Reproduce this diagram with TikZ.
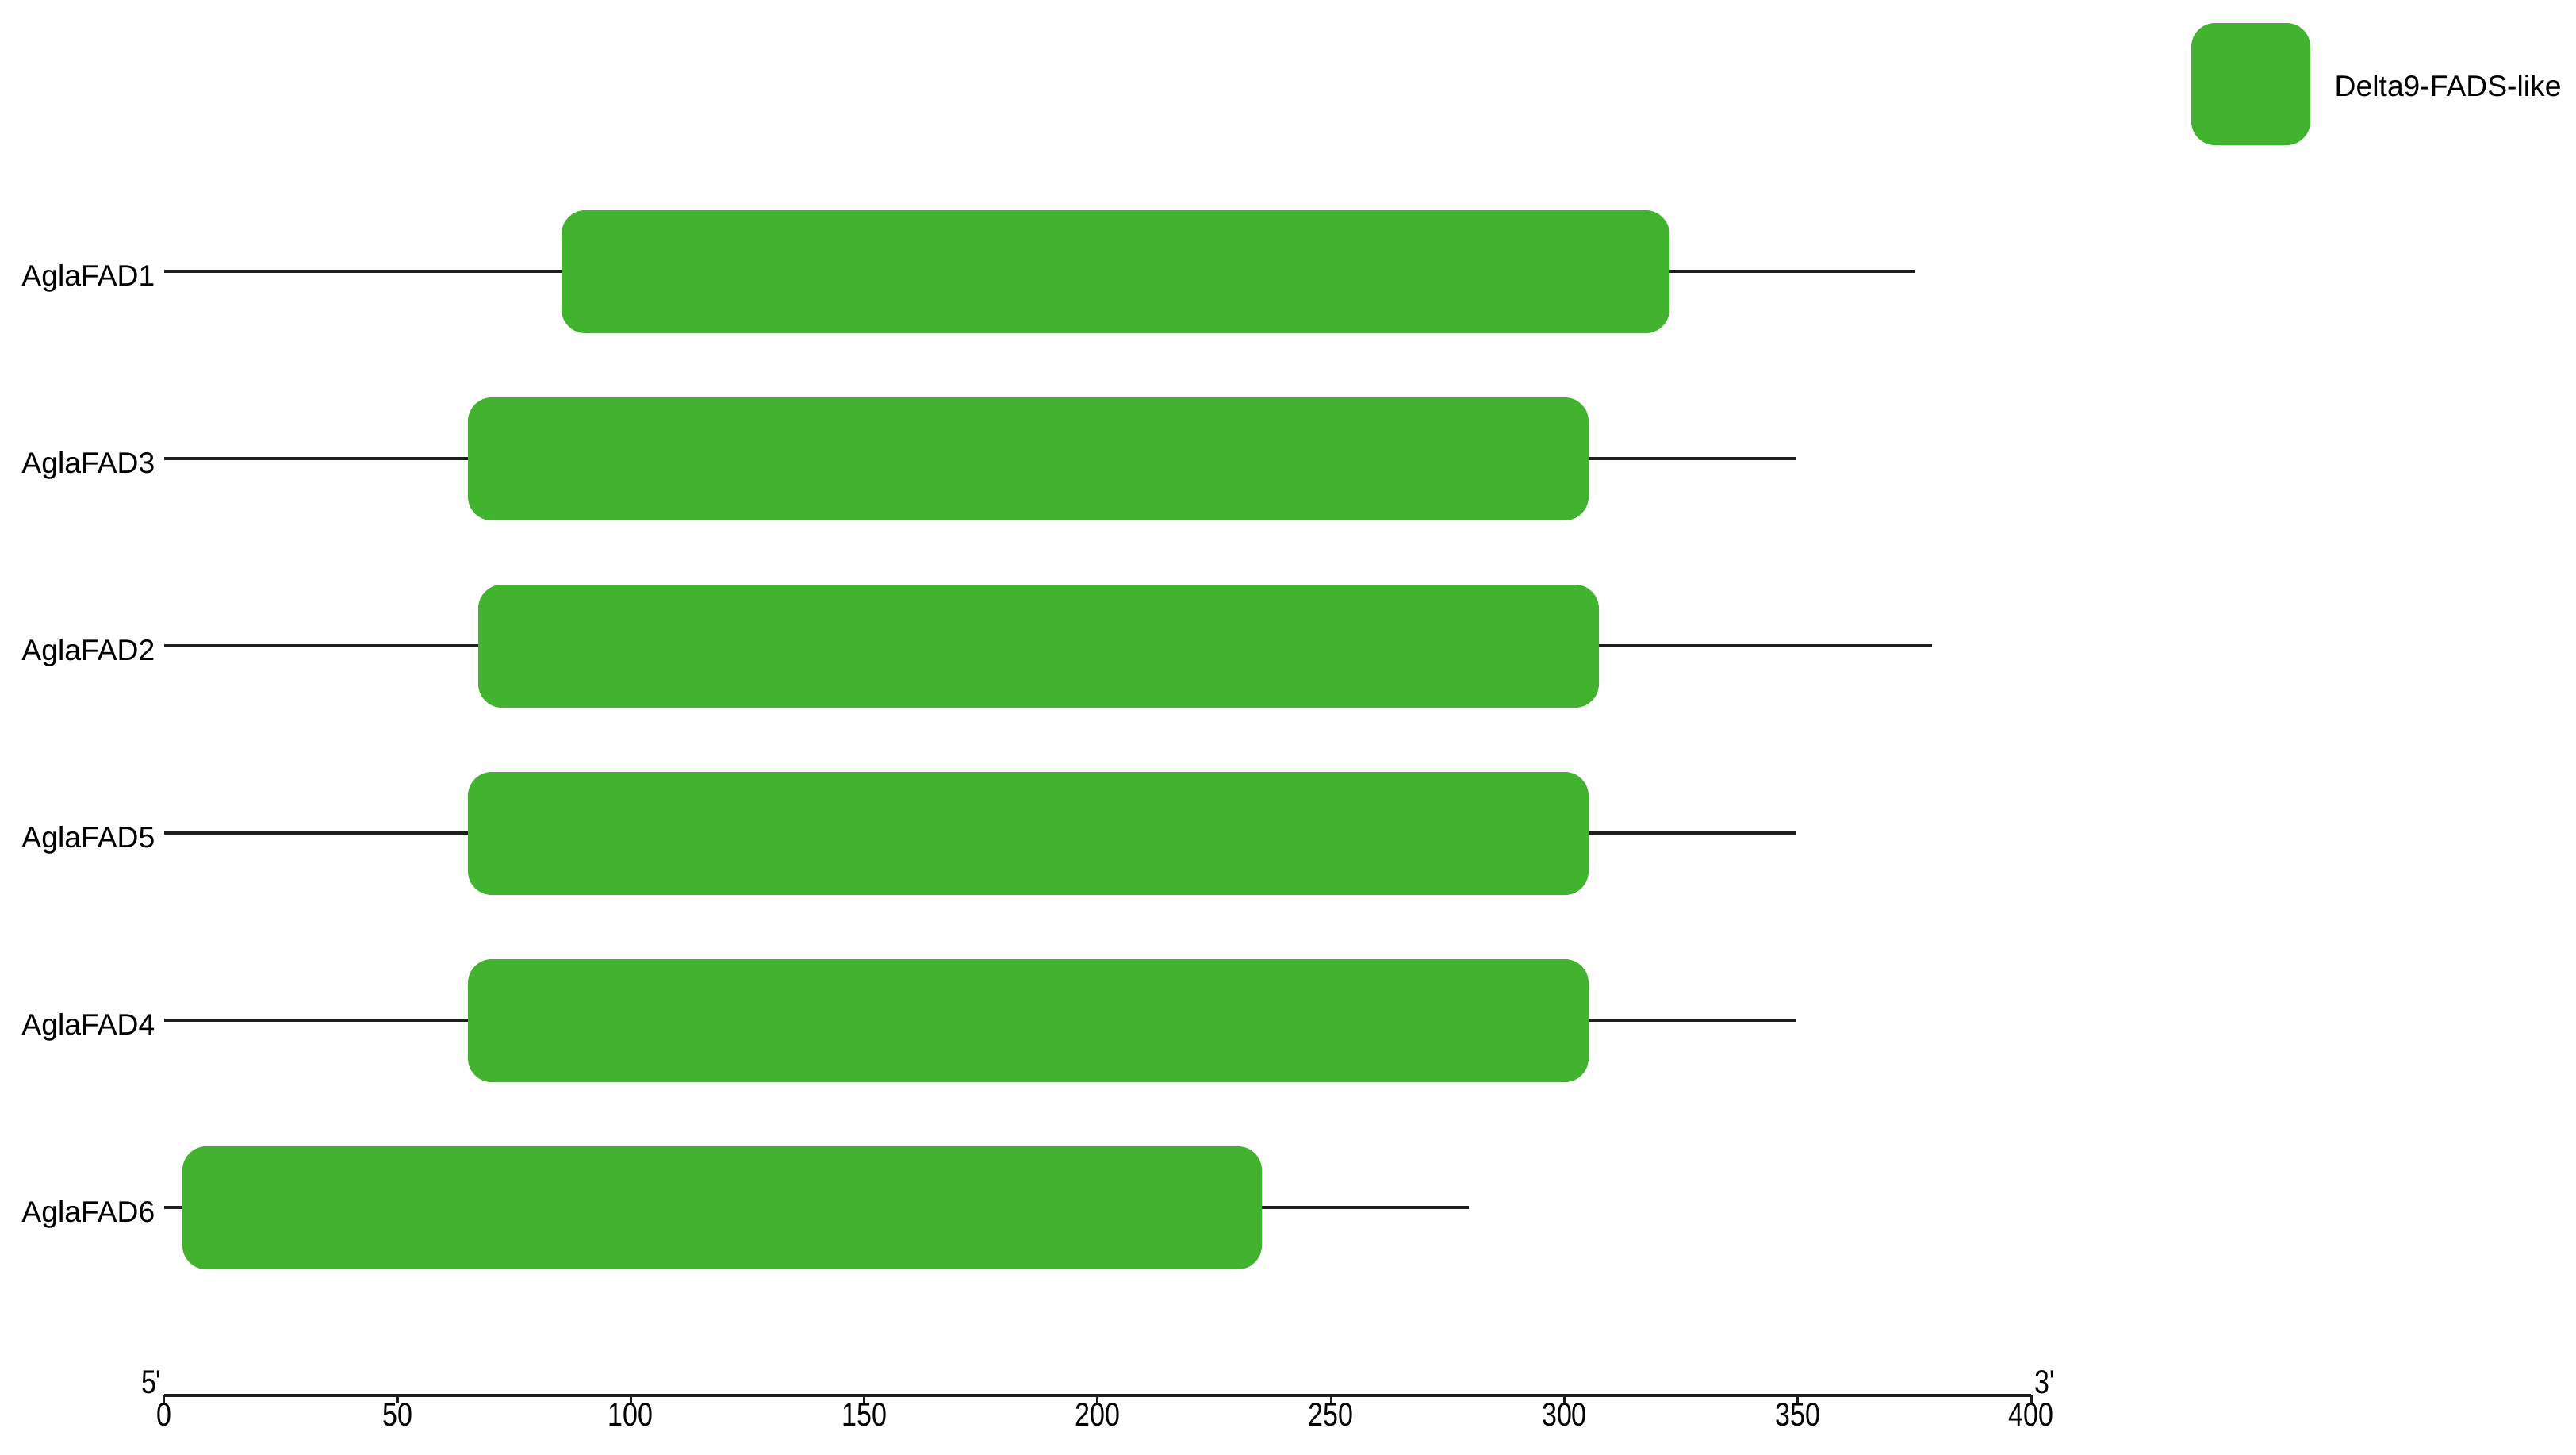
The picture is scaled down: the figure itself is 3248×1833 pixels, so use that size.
\documentclass[tikz,border=0pt]{standalone}
\usepackage{fontspec}
\setmainfont{Liberation Sans}
\newfontfamily\plainfont{Liberation Sans}
\definecolor{domgreen}{RGB}{66,179,46}
\definecolor{linegray}{RGB}{30,30,30}
\begin{document}
\begin{tikzpicture}[x=0.01cm,y=-0.01cm,
  dom/.style={fill=domgreen, draw=none, rounded corners=0.3cm},
  bb/.style={line width=0.9pt, draw=linegray},
  lab/.style={font=\plainfont\fontsize{10.6}{12}\selectfont, inner sep=0pt},
  axlab/.style={font=\plainfont\fontsize{11.8}{13}\selectfont, inner sep=0pt, xscale=0.82},
]
\useasboundingbox (0,0) rectangle (3248,1833);
% legend
\path[dom] (2763,29) rectangle (2913,183);
\node[lab, anchor=base west] (legtext) at (2943,121) {Delta9-FADS-like};
% rows
\foreach \n/\y/\a/\b/\e in {AglaFAD1/342/708/2105/2414,
                             AglaFAD3/578/590/2003/2264,
                             AglaFAD2/814/603/2016/2436,
                             AglaFAD5/1050/590/2003/2264,
                             AglaFAD4/1286/590/2003/2264,
                             AglaFAD6/1522/230/1591/1852}{
  \coordinate (s\n) at (207,\y);
  \coordinate (e\n) at (\e,\y);
  \draw[bb] (s\n) -- (e\n);
  \path[dom] (\a,\y-77) rectangle (\b,\y+78);
  \node[lab, anchor=base east] (l\n) at (196,\y+18) {\n};
}
% axis
\coordinate (ax0) at (206.7,1759);
\coordinate (ax1) at (2561,1759);
\draw[bb] (ax0) -- (ax1);
\foreach \i in {0,...,8}{
  \pgfmathsetmacro{\xx}{206.7+294.3*\i}
  \pgfmathtruncatemacro{\v}{50*\i}
  \coordinate (t\i) at (\xx,1759);
  \coordinate (tb\i) at (\xx,1769);
  \draw[bb] (t\i) -- (tb\i);
  \node[axlab, anchor=base] (tl\i) at (\xx,1797) {\v};
}
\node[axlab, anchor=base east] (five) at (204,1756) {5'};
\node[axlab, anchor=base west] (three) at (2565,1756) {3'};
\end{tikzpicture}
\end{document}
